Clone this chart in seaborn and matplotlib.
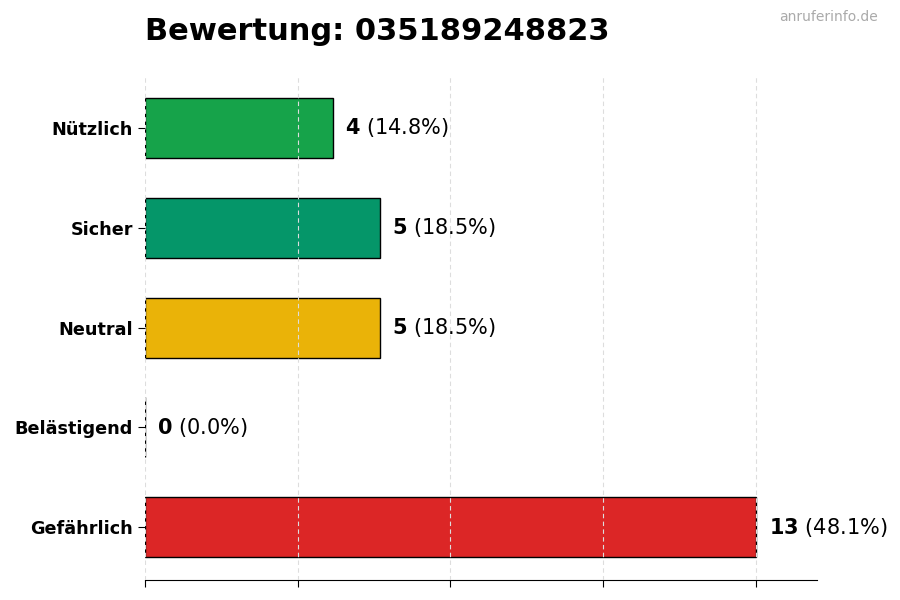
import pandas as pd
import seaborn as sns
import matplotlib.pyplot as plt
import numpy as np

# Daten
kategorien = ["Nützlich", "Sicher", "Neutral", "Belästigend", "Gefährlich"]
anzahl = [4, 5, 5, 0, 13]
farben = ["#16a34a", "#059669", "#eab308", "#ea580c", "#dc2626"]
nummer = "035189248823"

df = pd.DataFrame({"kategorie": kategorien, "anzahl": anzahl})
gesamt = sum(anzahl)

sns.set_style("white")
plt.rcParams["text.color"] = "black"
plt.rcParams["xtick.color"] = "black"
plt.rcParams["ytick.color"] = "black"
plt.rcParams["axes.edgecolor"] = "black"

fig = plt.figure(figsize=(9, 6), dpi=100)
ax = fig.add_axes([0.161, 0.033, 0.747, 0.842])

sns.barplot(data=df, y="kategorie", x="anzahl", hue="kategorie",
            palette=farben, order=kategorien, hue_order=kategorien,
            saturation=1, width=0.6, edgecolor="black", linewidth=1,
            legend=False, ax=ax)

# Beschriftungen an den Balken
for i, v in enumerate(anzahl):
    ax.annotate(r"$\mathbf{%d}$ (%.1f%%)" % (v, v / gesamt * 100),
                (v, i), xytext=(9, 0), textcoords="offset points",
                va="center", ha="left", fontsize=15, color="black")

ax.set_xlim(0, max(anzahl) * 1.1)
ax.set_ylim(len(kategorien) - 0.47, -0.53)
ax.set_xticks(np.linspace(0, max(anzahl), 5))
ax.set_xticklabels([])
ax.set_xlabel("")
ax.set_ylabel("")
ax.tick_params(axis="y", labelsize=12.7, left=True, length=5,
               labelcolor="black")
ax.tick_params(axis="x", bottom=True, length=5)
for lbl in ax.get_yticklabels():
    lbl.set_fontweight("bold")

ax.grid(axis="x", linestyle=(0, (4, 3)), color="#dddddd", linewidth=0.8)
ax.set_axisbelow(False)
sns.despine(ax=ax, left=True)

ax.set_title(f"Bewertung: {nummer}", loc="left", fontsize=22,
             fontweight="bold", pad=25, color="black")
fig.text(0.975, 0.983, "anruferinfo.de", ha="right", va="top",
         fontsize=10, color="#aaaaaa")

plt.savefig("out.png", dpi=100)
